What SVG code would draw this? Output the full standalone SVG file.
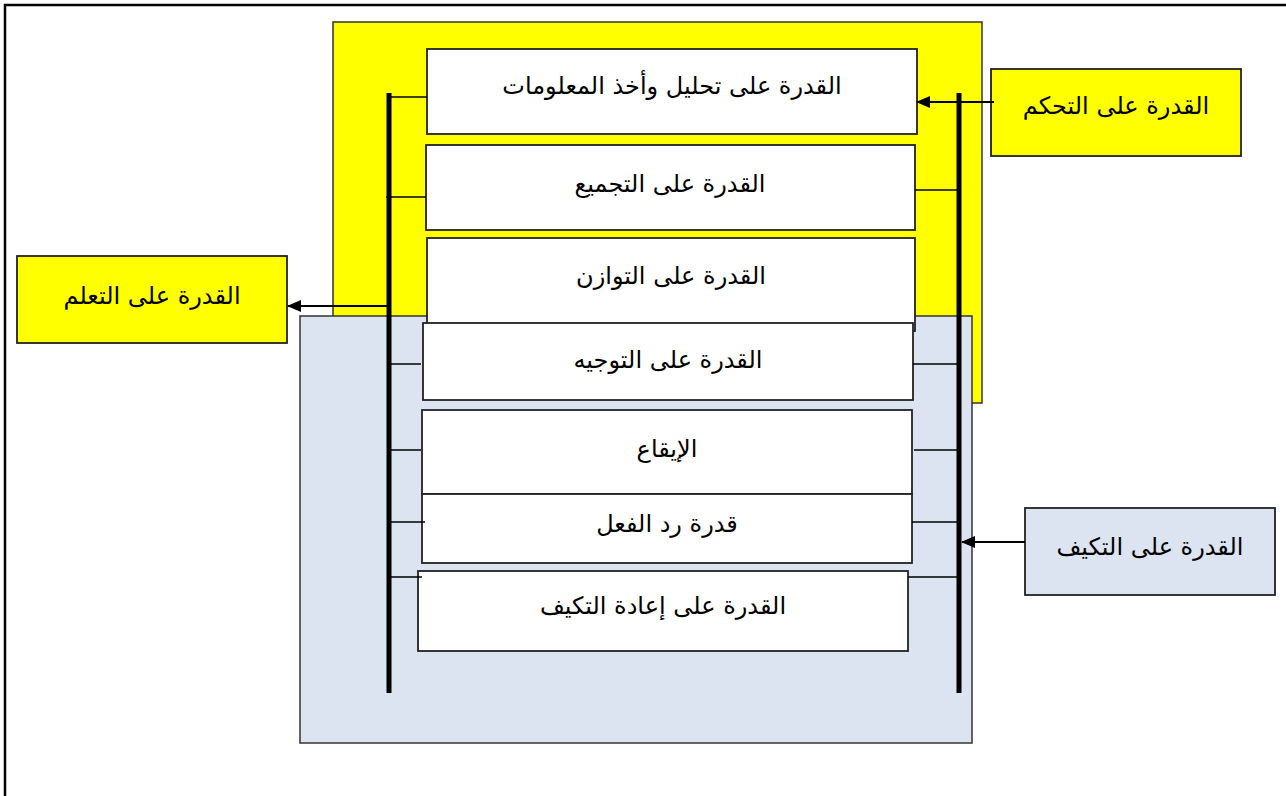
<svg xmlns="http://www.w3.org/2000/svg" width="1286" height="796" viewBox="0 0 1286 796">
  <style>
    .frame { fill: #ffffff; stroke: #000000; stroke-width: 2.5; }
    .panel { stroke: #333333; stroke-width: 1.5; }
    .box { fill: #ffffff; stroke: #222222; stroke-width: 1.8; }
    .yellow { fill: #ffff00; }
    .blue { fill: #dbe4f0; }
    .bar { stroke: #000000; stroke-width: 5; }
    .tick { stroke: #000000; stroke-width: 1.5; }
    .arrow { stroke: #000000; stroke-width: 2; fill: none; marker-end: url(#head); }
    .label { font-family: "DejaVu Sans", "Noto Sans", sans-serif; font-size: 24px; fill: #000000; text-anchor: middle; dominant-baseline: middle; direction: rtl; }
  </style>
  <defs>
    <marker id="head" viewBox="0 0 14 12" refX="13" refY="6" markerWidth="14" markerHeight="12" markerUnits="userSpaceOnUse" orient="auto">
      <path d="M0,0 L14,6 L0,12 Z" fill="#000000"/>
    </marker>
  </defs>

  <!-- page border -->
  <rect class="frame" x="5" y="5" width="1290" height="800"/>

  <!-- background panels -->
  <rect id="panel-control" class="panel yellow" x="333" y="22" width="649" height="381"/>
  <rect id="panel-adapt" class="panel blue" x="300" y="316" width="672" height="427"/>

  <!-- ability boxes -->
  <g id="node-analysis">
    <rect class="box" x="427" y="49" width="490" height="85"/>
    <text class="label" x="672" y="87">القدرة على تحليل وأخذ المعلومات</text>
  </g>
  <g id="node-coupling">
    <rect class="box" x="426" y="145" width="489" height="85"/>
    <text class="label" x="670" y="185">القدرة على التجميع</text>
  </g>
  <g id="node-balance">
    <rect class="box" x="427" y="238" width="488" height="93"/>
    <text class="label" x="671" y="277">القدرة على التوازن</text>
  </g>
  <g id="node-orientation">
    <rect class="box" x="423" y="323" width="490" height="77"/>
    <text class="label" x="668" y="361">القدرة على التوجيه</text>
  </g>
  <g id="node-rhythm">
    <rect class="box" x="422" y="410" width="490" height="84"/>
    <text class="label" x="667" y="450">الإيقاع</text>
  </g>
  <g id="node-reaction">
    <rect class="box" x="422" y="494" width="490" height="69"/>
    <text class="label" x="667" y="525">قدرة رد الفعل</text>
  </g>
  <g id="node-readjust">
    <rect class="box" x="418" y="571" width="490" height="80"/>
    <text class="label" x="663" y="607">القدرة على إعادة التكيف</text>
  </g>

  <!-- side category boxes -->
  <g id="node-learning">
    <rect class="box yellow" x="17" y="256" width="270" height="87"/>
    <text class="label" x="152" y="297">القدرة على التعلم</text>
  </g>
  <g id="node-control">
    <rect class="box yellow" x="991" y="69" width="250" height="87"/>
    <text class="label" x="1116" y="107">القدرة على التحكم</text>
  </g>
  <g id="node-adaptation">
    <rect class="box blue" x="1025" y="508" width="250" height="87"/>
    <text class="label" x="1150" y="548">القدرة على التكيف</text>
  </g>

  <!-- connectors -->
  <g id="connectors">
    <line class="bar" x1="389" y1="93" x2="389" y2="693"/>
    <line class="bar" x1="959" y1="93" x2="959" y2="693"/>

    <line class="tick" x1="389" y1="97" x2="427" y2="97"/>
    <line class="tick" x1="386" y1="197" x2="426" y2="197"/>
    <line class="tick" x1="389" y1="364" x2="421" y2="364"/>
    <line class="tick" x1="389" y1="450" x2="421" y2="450"/>
    <line class="tick" x1="389" y1="522" x2="425" y2="522"/>
    <line class="tick" x1="389" y1="577" x2="422" y2="577"/>

    <line class="tick" x1="915" y1="190" x2="959" y2="190"/>
    <line class="tick" x1="913" y1="364" x2="959" y2="364"/>
    <line class="tick" x1="914" y1="450" x2="959" y2="450"/>
    <line class="tick" x1="912" y1="522" x2="959" y2="522"/>
    <line class="tick" x1="908" y1="577" x2="959" y2="577"/>

    <line class="arrow" x1="994" y1="102" x2="917" y2="102"/>
    <line class="arrow" x1="389" y1="306" x2="288" y2="306"/>
    <line class="arrow" x1="1025" y1="542" x2="962" y2="542"/>
  </g>
</svg>
